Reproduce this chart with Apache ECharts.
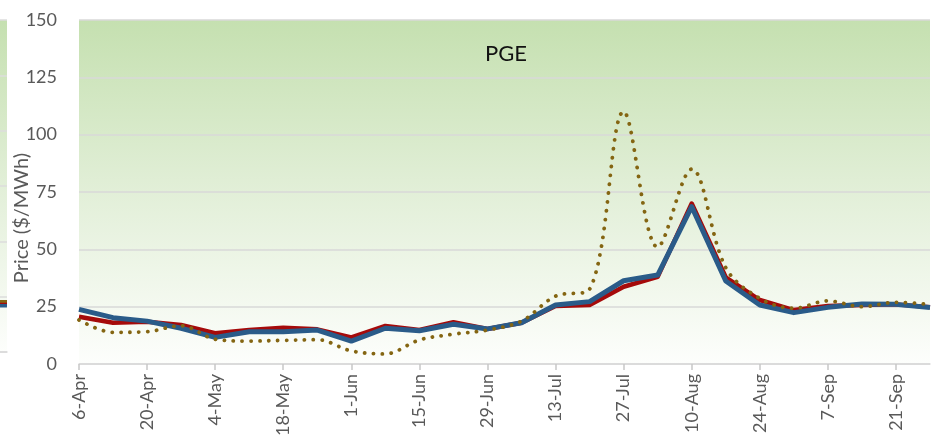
<!DOCTYPE html>
<html>
<head>
<meta charset="utf-8">
<script src="https://cdn.jsdelivr.net/npm/echarts@6/dist/echarts.min.js"></script>
<style>html,body{margin:0;padding:0;background:#fff;}#c{width:932px;height:445px;}</style>
</head>
<body>
<div id="c"></div>
<script>
var categories = ['6-Apr','13-Apr','20-Apr','27-Apr','4-May','11-May','18-May','25-May','1-Jun','8-Jun','15-Jun','22-Jun','29-Jun','6-Jul','13-Jul','20-Jul','27-Jul','3-Aug','10-Aug','17-Aug','24-Aug','31-Aug','7-Sep','14-Sep','21-Sep','28-Sep'];
var redSeries = [20.6, 18.0, 18.4, 17.0, 13.4, 14.8, 15.8, 15.1, 11.6, 16.6, 14.8, 18.2, 15.3, 18.0, 25.3, 25.7, 33.7, 38.0, 70.0, 37.8, 27.9, 23.5, 25.3, 25.7, 26.0, 24.8];
var blueSeries = [23.8, 20.2, 18.7, 15.6, 11.6, 14.1, 14.1, 14.8, 10.0, 15.6, 14.5, 17.3, 15.3, 18.0, 25.7, 27.2, 36.3, 38.8, 68.6, 36.2, 25.7, 22.4, 24.7, 26.2, 26.0, 24.6];
var dottedSeries = [19.2, 13.8, 14.1, 16.7, 10.8, 10.0, 10.3, 10.6, 5.7, 4.4, 10.5, 13.0, 14.8, 18.7, 29.6, 32.6, 110.0, 51.0, 85.0, 42.0, 28.6, 24.3, 27.5, 25.0, 26.9, 26.0];
var yTicks = [0, 25, 50, 75, 100, 125, 150];
// neighbouring chart, cropped at the left edge
var leftCats = ['a', 'b'];
var leftRed = [22.5, 22];
var leftBlue = [21.5, 21];
var leftDotted = [23.5, 23];

var FONT = 'Lato';
var bg = {type:'linear', x:0, y:0, x2:0, y2:1, colorStops:[{offset:0, color:'#c5e0b0'},{offset:0.5, color:'#e2efd8'},{offset:1, color:'#fdfefc'}]};
var chart = echarts.init(document.getElementById('c'), null, {renderer:'canvas'});
var option = {
  backgroundColor: '#ffffff',
  animation: false,
  textStyle: {fontFamily: FONT},
  title: {
    text: 'PGE', left: 501, top: 38, textAlign: 'center',
    textStyle: {fontFamily: FONT, fontSize: 22, fontWeight: 'normal', color: '#111111'}
  },
  grid: [
    {left: 79, right: 2, top: 20, bottom: 81, show: true, backgroundColor: bg, borderWidth: 0, containLabel: false, outerBoundsMode: 'none'},
    {left: -60, width: 67, top: 20, height: 332, show: true, backgroundColor: bg, borderWidth: 0, containLabel: false, outerBoundsMode: 'none'}
  ],
  xAxis: [
    {
      type: 'category', gridIndex: 0, data: categories, boundaryGap: false,
      axisLine: {show: true, lineStyle: {color: '#d9d9d9', width: 1.5}},
      axisTick: {show: true, interval: 1, length: 6, lineStyle: {color: '#c8c8c8', width: 1.5}},
      axisLabel: {interval: 1, rotate: 90, margin: 10, color: '#595959', fontSize: 18, fontFamily: FONT},
      splitLine: {show: false}
    },
    {
      type: 'category', gridIndex: 1, data: leftCats, boundaryGap: false,
      axisLine: {show: true, lineStyle: {color: '#d9d9d9', width: 1.5}},
      axisTick: {show: false}, axisLabel: {show: false}
    }
  ],
  yAxis: [
    {
      type: 'value', gridIndex: 0, min: yTicks[0], max: yTicks[yTicks.length - 1], interval: 25,
      name: 'Price ($/MWh)', nameLocation: 'middle', nameGap: 47, nameMoveOverlap: false,
      nameTextStyle: {fontFamily: FONT, fontSize: 20, color: '#595959', padding: [0, 52, 0, 0]},
      axisLine: {show: false}, axisTick: {show: false},
      axisLabel: {margin: 22, color: '#595959', fontSize: 18, fontFamily: FONT},
      splitLine: {show: true, lineStyle: {color: '#d9d9d9', width: 1.5}}
    },
    {
      type: 'value', gridIndex: 1, min: 0, max: 150, interval: 25,
      axisLine: {show: false}, axisTick: {show: false}, axisLabel: {show: false},
      splitLine: {show: true, lineStyle: {color: '#dcdcdc', width: 1.5}}
    }
  ],
  series: [
    {type: 'line', xAxisIndex: 0, yAxisIndex: 0, data: redSeries, symbol: 'none', smooth: false,
      lineStyle: {color: '#a50a0a', width: 4.5, join: 'round'}, z: 2},
    {type: 'line', xAxisIndex: 0, yAxisIndex: 0, data: blueSeries, symbol: 'none', smooth: false,
      lineStyle: {color: '#2a5b89', width: 5, join: 'round'}, z: 3},
    {type: 'line', xAxisIndex: 0, yAxisIndex: 0, data: dottedSeries, symbol: 'none', smooth: 0.35,
      lineStyle: {color: '#846512', width: 3.8, type: [0.1, 8.8], cap: 'round'}, z: 4},
    {type: 'line', xAxisIndex: 1, yAxisIndex: 1, data: leftRed, symbol: 'none',
      lineStyle: {color: '#a50a0a', width: 4}, z: 2},
    {type: 'line', xAxisIndex: 1, yAxisIndex: 1, data: leftBlue, symbol: 'none',
      lineStyle: {color: '#2a5b89', width: 4}, z: 3},
    {type: 'line', xAxisIndex: 1, yAxisIndex: 1, data: leftDotted, symbol: 'none',
      lineStyle: {color: '#846512', width: 3.5}, z: 4}
  ]
};
chart.setOption(option);
</script>
</body>
</html>
